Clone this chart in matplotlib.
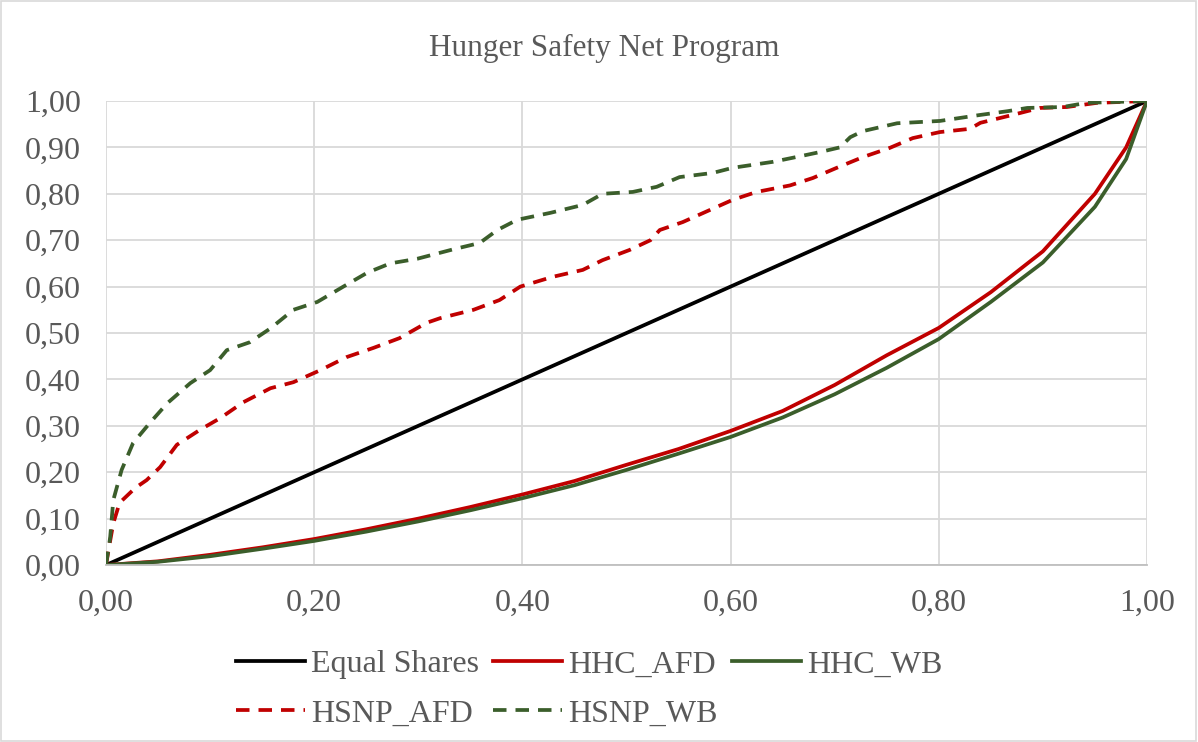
import numpy as np
import matplotlib
matplotlib.use('Agg')
import matplotlib.pyplot as plt
from matplotlib.ticker import FuncFormatter, MultipleLocator
from matplotlib.patches import Rectangle

plt.rcParams['font.family'] = ['Liberation Serif', 'DejaVu Serif']

# Lorenz curves
equal_x = [0.0, 1.0]
equal_y = [0.0, 1.0]

hhc_x = [0.0, 0.05, 0.1, 0.15, 0.2, 0.25, 0.3, 0.35, 0.4, 0.45, 0.5, 0.55,
         0.6, 0.65, 0.7, 0.75, 0.8, 0.85, 0.9, 0.95, 0.98, 1.0]
hhc_afd = [0.0, 0.008, 0.022, 0.038, 0.056, 0.077, 0.1, 0.125, 0.152, 0.181,
           0.216, 0.25, 0.289, 0.332, 0.388, 0.452, 0.511, 0.588, 0.676, 0.8,
           0.9, 1.0]
hhc_wb = [0.0, 0.007, 0.019, 0.035, 0.052, 0.072, 0.094, 0.118, 0.144, 0.172,
          0.205, 0.24, 0.276, 0.318, 0.368, 0.425, 0.487, 0.567, 0.652, 0.772,
          0.875, 1.0]

hsnp_afd_x = [0.0, 0.003, 0.007, 0.013, 0.028, 0.039, 0.052, 0.068, 0.09, 0.11,
              0.132, 0.158, 0.18, 0.206, 0.231, 0.257, 0.282, 0.308, 0.321,
              0.353, 0.378, 0.398, 0.429, 0.458, 0.477, 0.503, 0.523, 0.532,
              0.554, 0.58, 0.602, 0.625, 0.657, 0.679, 0.702, 0.727, 0.753,
              0.775, 0.801, 0.83, 0.84, 0.871, 0.897, 0.923, 0.952, 1.0]
hsnp_afd_y = [0.0, 0.04, 0.09, 0.134, 0.166, 0.183, 0.211, 0.259, 0.291, 0.317,
              0.351, 0.381, 0.394, 0.42, 0.448, 0.468, 0.489, 0.522, 0.532,
              0.55, 0.571, 0.6, 0.621, 0.636, 0.657, 0.679, 0.70, 0.722,
              0.739, 0.765, 0.787, 0.804, 0.818, 0.834, 0.856, 0.879, 0.899,
              0.92, 0.933, 0.94, 0.953, 0.97, 0.985, 0.987, 0.996, 1.0]

hsnp_wb_x = [0.0, 0.004, 0.007, 0.015, 0.026, 0.042, 0.059, 0.081, 0.1, 0.116,
             0.138, 0.158, 0.18, 0.203, 0.228, 0.251, 0.273, 0.299, 0.333,
             0.359, 0.376, 0.395, 0.427, 0.458, 0.477, 0.506, 0.529, 0.551,
             0.583, 0.602, 0.641, 0.667, 0.686, 0.705, 0.715, 0.727, 0.76,
             0.801, 0.84, 0.866, 0.885, 0.919, 0.942, 1.0]
hsnp_wb_y = [0.0, 0.06, 0.14, 0.205, 0.263, 0.306, 0.349, 0.392, 0.42, 0.463,
             0.48, 0.51, 0.55, 0.567, 0.6, 0.63, 0.65, 0.66, 0.68, 0.694,
             0.722, 0.744, 0.759, 0.776, 0.80, 0.804, 0.815, 0.836, 0.845,
             0.856, 0.869, 0.881, 0.89, 0.90, 0.922, 0.935, 0.952, 0.957,
             0.97, 0.978, 0.985, 0.987, 0.996, 1.0]

red = '#C00000'
green = '#3B5E2B'
grey_text = '#595959'
dash = (0, (3.6, 2.4))

fig = plt.figure(figsize=(11.98, 7.42), dpi=100)
ax = fig.add_axes([0.0885, 0.2385, 0.8689, 0.6254])

lw = 2.7
l_eq, = ax.plot(equal_x, equal_y, color='black', lw=lw, label='Equal Shares')
l_hafd, = ax.plot(hhc_x, hhc_afd, color=red, lw=lw, label='HHC_AFD')
l_hwb, = ax.plot(hhc_x, hhc_wb, color=green, lw=lw, label='HHC_WB')
l_safd, = ax.plot(hsnp_afd_x, hsnp_afd_y, color=red, lw=lw, ls=dash, label='HSNP_AFD')
l_swb, = ax.plot(hsnp_wb_x, hsnp_wb_y, color=green, lw=lw, ls=dash, label='HSNP_WB')

ax.set_xlim(0, 1)
ax.set_ylim(0, 1)
ax.xaxis.set_major_locator(MultipleLocator(0.2))
ax.yaxis.set_major_locator(MultipleLocator(0.1))
fmt = FuncFormatter(lambda v, p: f'{v:.2f}'.replace('.', ','))
ax.xaxis.set_major_formatter(fmt)
ax.yaxis.set_major_formatter(fmt)
ax.grid(True, color='#D9D9D9', lw=1.3)
ax.set_axisbelow(True)
for s in ['top', 'left', 'right']:
    ax.spines[s].set_visible(False)
ax.spines['bottom'].set_color('#BFBFBF')
ax.spines['bottom'].set_linewidth(1.3)
ax.tick_params(axis='both', length=0, labelsize=23, labelcolor=grey_text)
ax.tick_params(axis='x', pad=17)
ax.tick_params(axis='y', pad=18)

fig.text(0.504, 0.934, 'Hunger Safety Net Program', ha='center', va='center',
         fontsize=22.5, color=grey_text)

handles = [l_eq, l_safd, l_hafd, l_swb, l_hwb]
leg = fig.legend(handles, [h.get_label() for h in handles], ncol=3,
                 loc='center left', bbox_to_anchor=(0.173, 0.071), frameon=False,
                 fontsize=23, handlelength=2.15, handletextpad=0.2,
                 columnspacing=0.45, labelspacing=0.62, borderpad=0.4)
for t in leg.get_texts():
    t.set_color(grey_text)

fig.patches.append(Rectangle((0.001, 0.001), 0.997, 0.997, transform=fig.transFigure,
                             fill=False, edgecolor='#D9D9D9', lw=1.2))

fig.savefig('out.png', dpi=100)
